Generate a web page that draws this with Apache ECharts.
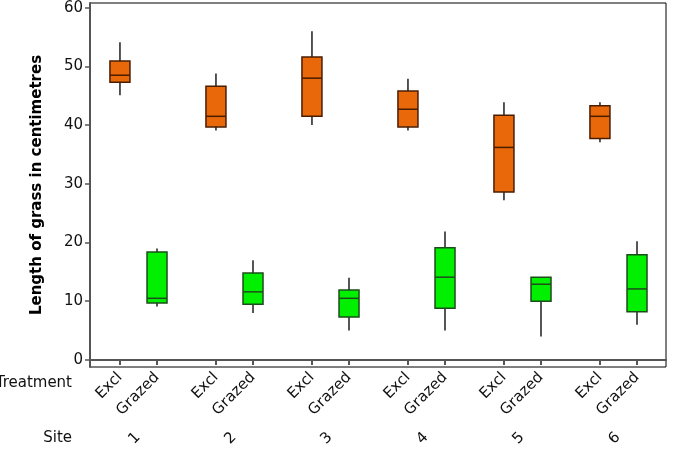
<!DOCTYPE html>
<html>
<head>
<meta charset="utf-8">
<script src="https://cdn.jsdelivr.net/npm/echarts@6/dist/echarts.min.js"></script>
<style>
  html, body { margin: 0; padding: 0; background: #fff; }
  #chart { width: 675px; height: 464px; }
</style>
</head>
<body>
<div id="chart"></div>
<script>
const sites = ["1", "2", "3", "4", "5", "6"];
const treatments = ["Excl", "Grazed"];
const yTicks = [0, 10, 20, 30, 40, 50, 60];

// [min, Q1, median, Q3, max] per site
const exclStats = [
  [45.1, 47.3, 48.5, 50.9, 54.1],
  [39.1, 39.7, 41.5, 46.6, 48.8],
  [40.0, 41.5, 48.0, 51.6, 56.0],
  [39.1, 39.7, 42.7, 45.8, 47.9],
  [27.2, 28.6, 36.2, 41.7, 43.9],
  [37.1, 37.7, 41.5, 43.3, 43.9],
];
const grazedStats = [
  [9.1, 9.7, 10.5, 18.4, 19.0],
  [8.0, 9.5, 11.6, 14.8, 17.0],
  [5.0, 7.3, 10.5, 11.9, 14.0],
  [5.0, 8.8, 14.1, 19.1, 21.9],
  [4.0, 10.0, 12.9, 14.1, 14.1],
  [6.0, 8.2, 12.1, 17.9, 20.2],
];

const offset = 0.193; // half the spacing between the two boxes of a site
const font = "DejaVu Sans";

// tick positions on the numeric x axis: one for each treatment in each site
const treatTicks = [];
sites.forEach((s, i) => {
  treatTicks.push(i + 1 - offset, i + 1 + offset);
});

function toItems(stats, shift) {
  return stats.map((s, i) => [i + 1 + shift].concat(s));
}

function boxRender(fill, stroke) {
  return function (params, api) {
    const x = api.value(0);
    const lo = api.coord([x, api.value(1)]);
    const q1 = api.coord([x, api.value(2)]);
    const med = api.coord([x, api.value(3)]);
    const q3 = api.coord([x, api.value(4)]);
    const hi = api.coord([x, api.value(5)]);
    const half = 10;
    return {
      type: "group",
      children: [
        {
          type: "line",
          shape: { x1: lo[0], y1: lo[1], x2: hi[0], y2: hi[1] },
          style: { stroke: "#444", lineWidth: 1.8 },
        },
        {
          type: "rect",
          shape: { x: q3[0] - half, y: q3[1], width: half * 2, height: q1[1] - q3[1] },
          style: { fill: fill, stroke: stroke, lineWidth: 1.5 },
        },
        {
          type: "line",
          shape: { x1: med[0] - half, y1: med[1], x2: med[0] + half, y2: med[1] },
          style: { stroke: stroke, lineWidth: 1.5 },
        },
      ],
    };
  };
}

const chart = echarts.init(document.getElementById("chart"), null, { renderer: "canvas" });

const option = {
  backgroundColor: "#fff",
  animation: false,
  textStyle: { fontFamily: font },
  grid: {
    left: 90,
    right: 9,
    top: 3,
    bottom: 97,
    show: true,
    borderColor: "#000",
    borderWidth: 1,
  },
  graphic: [
    {
      type: "text",
      right: 675 - 72,
      top: 376,
      style: { text: "Treatment", fontFamily: font, fontSize: 15, fill: "#111" },
    },
    {
      type: "text",
      right: 675 - 72,
      top: 431,
      style: { text: "Site", fontFamily: font, fontSize: 15, fill: "#111" },
    },
  ],
  xAxis: [
    {
      type: "value",
      min: 0.495,
      max: 6.495,
      splitLine: { show: false },
      axisLine: { show: true, lineStyle: { color: "#555", width: 2 } },
      axisTick: {
        show: true,
        customValues: treatTicks,
        length: 5,
        lineStyle: { color: "#555", width: 2 },
      },
      axisLabel: {
        customValues: treatTicks,
        rotate: 45,
        margin: 8,
        fontSize: 15,
        color: "#111",
        fontFamily: font,
        formatter: (v) => (v < Math.round(v) ? treatments[0] : treatments[1]),
      },
    },
    {
      type: "category",
      data: sites,
      position: "bottom",
      axisLine: { show: false },
      axisTick: { show: false },
      axisLabel: {
        rotate: 45,
        margin: 68,
        fontSize: 15,
        color: "#111",
        fontFamily: font,
      },
    },
  ],
  yAxis: {
    type: "value",
    min: -1.2,
    max: 60.8,
    name: "Length of grass in centimetres",
    nameLocation: "middle",
    nameGap: 45,
    nameTextStyle: { fontFamily: font, fontSize: 15, fontWeight: "bold", color: "#000" },
    splitLine: { show: false },
    axisLine: { show: true, lineStyle: { color: "#555", width: 2 } },
    axisTick: {
      show: true,
      customValues: yTicks,
      length: 5,
      lineStyle: { color: "#555", width: 1.5 },
    },
    axisLabel: {
      customValues: yTicks,
      margin: 7,
      fontSize: 15,
      color: "#111",
      fontFamily: font,
    },
  },
  series: [
    {
      name: "Excl",
      type: "custom",
      xAxisIndex: 0,
      renderItem: boxRender("#e8680a", "#4a1c00"),
      data: toItems(exclStats, -offset),
    },
    {
      name: "Grazed",
      type: "custom",
      xAxisIndex: 0,
      renderItem: boxRender("#00f000", "#1b4d1b"),
      data: toItems(grazedStats, offset),
    },
  ],
};

chart.setOption(option);
</script>
</body>
</html>
